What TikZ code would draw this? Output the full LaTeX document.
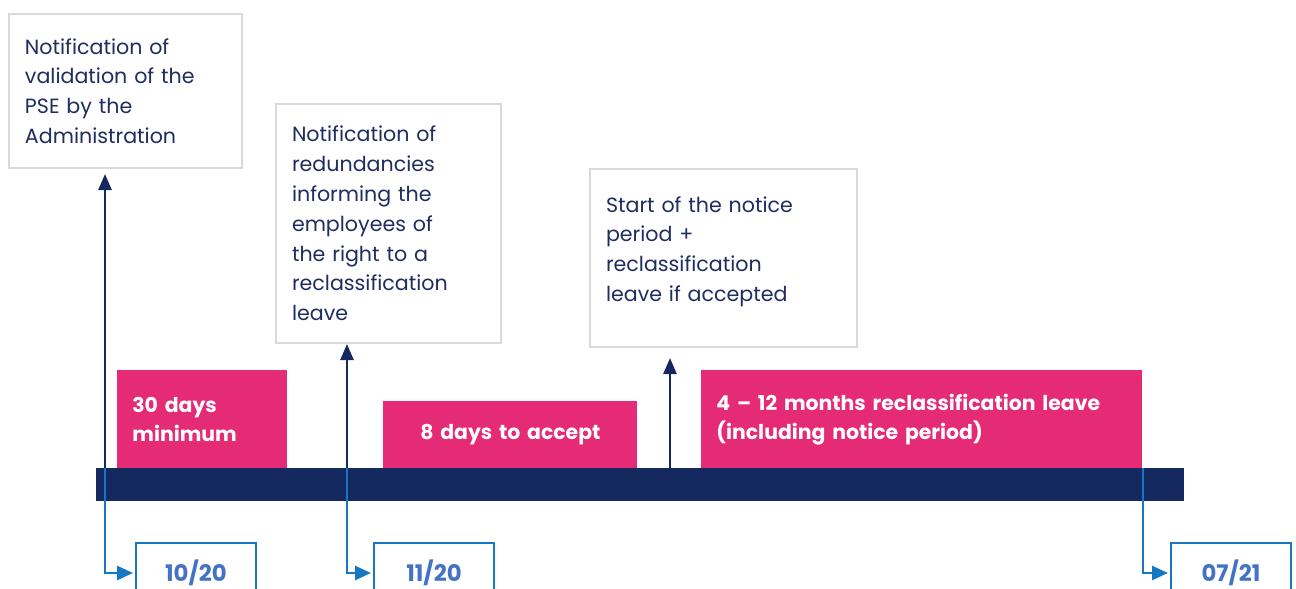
\documentclass[tikz,border=0pt]{standalone}
\usepackage{fontspec}
\setmainfont{Poppins}
\usepackage{tikz}
\usetikzlibrary{arrows.meta,positioning,calc}
\definecolor{psenavy}{RGB}{21,40,96}
\definecolor{psetext}{RGB}{31,45,95}
\definecolor{psepink}{RGB}{229,42,118}
\definecolor{pselink}{RGB}{22,120,196}
\definecolor{psedate}{RGB}{68,114,196}
\definecolor{psegray}{RGB}{217,217,217}

\begin{document}
\begin{tikzpicture}[
  x=0.5pt, y=-0.5pt,
  note/.style={
    draw=psegray, line width=1pt, fill=white, anchor=north west,
    align=left, inner xsep=8pt, inner ysep=0pt, text=psetext,
    font=\fontsize{10.3}{14.9}\selectfont
  },
  span/.style={
    fill=psepink, anchor=north west, align=left, inner xsep=7.5pt,
    inner ysep=0pt, text=white, font=\bfseries\fontsize{10.2}{14.6}\selectfont
  },
  date/.style={
    draw=pselink, line width=1pt, anchor=north west, align=center,
    minimum width=60pt, minimum height=30pt, inner sep=0pt,
    text=psedate, font=\bfseries\fontsize{11.4}{13}\selectfont
  },
  up/.style={-{Triangle[length=8pt,width=6.5pt]}, line width=1.3pt, psenavy},
  down/.style={-{Triangle[length=8pt,width=7pt]}, line width=1.3pt, pselink}
]
  \clip (0,0) rectangle (1296,589);

  % notes above the line
  \node[note, text width=100.5pt, minimum height=77pt] (n1) at (8,13)
    {Notification of\\validation of the\\PSE by the\\Administration};
  \node[note, text width=96.5pt, minimum height=119.5pt] (n2) at (275,103)
    {Notification of\\redundancies\\informing the\\employees of\\the right  to a\\reclassification\\leave};
  \node[note, text width=117.5pt, minimum height=89pt] (n3) at (589,168)
    {Start of the notice\\period +\\reclassification\\leave if accepted\rule[-9pt]{0pt}{9pt}};

  % time line
  \node[fill=psenavy, anchor=north west, inner sep=0pt,
    minimum width=544pt, minimum height=16.5pt] (line) at (96,468) {};

  % periods
  \node[span, text width=70pt, minimum height=49pt] (p1) at (117,370)
    {30 days\\minimum};
  \node[span, align=center, text width=112pt, minimum height=33.5pt] (p2) at (383,401)
    {8 days to accept};
  \node[span, text width=205.5pt, minimum height=49pt] (p3) at (701,370)
    {4 – 12 months reclassification leave\\(including notice period)};

  % dates
  \node[date] (d1) at (135,542) {10/20};
  \node[date] (d2) at (373,542) {11/20};
  \node[date] (d3) at (1170,542) {07/21};

  \coordinate (t1) at (105,468);
  \coordinate (t2) at (347,468);
  \coordinate (t3) at (670,468);
  \coordinate (t4) at (1143,468);

  \draw[up, shorten >=2.5pt] (t1) -- (t1 |- n1.south);
  \draw[up] (t2) -- (t2 |- n2.south);
  \draw[up, shorten >=5pt] (t3) -- (t3 |- n3.south);

  \draw[down, shorten >=1pt] (t1) |- (d1.west);
  \draw[down, shorten >=1pt] (t2) |- (d2.west);
  \draw[down, shorten >=1pt] (t4) |- (d3.west);
\end{tikzpicture}
\end{document}
